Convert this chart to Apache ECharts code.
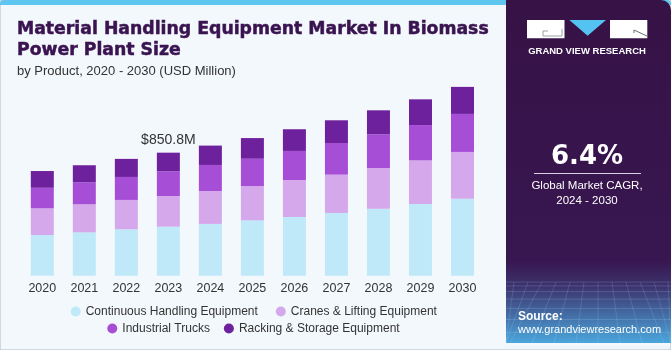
<!DOCTYPE html>
<html>
<head>
<meta charset="utf-8">
<script src="https://cdn.jsdelivr.net/npm/echarts@6/dist/echarts.min.js"></script>
<style>
html,body{margin:0;padding:0;background:#f3f8fc;}
#chart{width:671px;height:350px;}
</style>
</head>
<body>
<div id="chart"></div>
<script>
const years = ['2020','2021','2022','2023','2024','2025','2026','2027','2028','2029','2030'];
const continuous = [281, 300, 321, 339, 358, 383, 406, 434, 463, 496, 533];
const cranes     = [185, 194, 203, 212, 228, 237, 256, 265, 282, 302, 323];
const trucks     = [142, 152, 159, 171, 180, 189, 201, 219, 233, 244, 263];
const racking    = [116, 118, 125, 129, 134, 143, 150, 157, 166, 178, 187];
const seriesNames = ['Continuous Handling Equipment','Cranes & Lifting Equipment','Industrial Trucks','Racking & Storage Equipment'];
const seriesColors = ['#bfe9f9','#d5a8ec','#a64fd6','#6e219d'];
const highlightLabel = '$850.8M';
const highlightIndex = 3;

const chart = echarts.init(document.getElementById('chart'), null, {renderer:'canvas'});
const datasets = [continuous, cranes, trucks, racking];
const series = datasets.map((d, i) => ({
  name: seriesNames[i],
  type: 'bar',
  stack: 'total',
  barWidth: 23,
  data: d.map((v, j) => {
    if (i === 3 && j === highlightIndex) {
      return {value: v, label: {show: true, position: 'top', formatter: highlightLabel, color: '#333', fontSize: 14, fontFamily: 'Liberation Sans', distance: 6}};
    }
    return v;
  }),
  itemStyle: {color: seriesColors[i]},
  emphasis: {disabled: true},
  silent: true
}));

const panelX = 506;
const gridLines = [];
// faint texture lines in the lower panel
for (let k = 0; k < 9; k++) {
  const yy = 282 + k * k * 0.9 + k * 3;
  gridLines.push({type: 'line', shape: {x1: panelX, y1: yy, x2: 671, y2: yy}, style: {stroke: 'rgba(190,220,255,0.18)', lineWidth: 1}, z: 3, silent: true});
}
for (let k = 0; k < 12; k++) {
  const xt = panelX + 8 + k * 14;
  const xb = panelX - 40 + k * 22;
  gridLines.push({type: 'line', shape: {x1: xt, y1: 282, x2: Math.max(panelX, Math.min(671, xb)), y2: 343}, style: {stroke: 'rgba(190,220,255,0.16)', lineWidth: 1}, z: 3, silent: true});
}

chart.setOption({
  backgroundColor: '#f3f8fc',
  animation: false,
  grid: {left: 21.3, right: 187.5, top: 73.3, bottom: 74.3},
  xAxis: {
    type: 'category', data: years,
    axisLine: {show: false}, axisTick: {show: false},
    axisLabel: {color: '#333', fontSize: 12.5, fontFamily: 'Liberation Sans', margin: 6}
  },
  yAxis: {type: 'value', min: 0, max: 1400, show: false, splitLine: {show: false}},
  legend: [
    {data: [seriesNames[0], seriesNames[1]], left: 70.7, top: 305.5, padding: 0, itemGap: 18, itemWidth: 10, itemHeight: 10, icon: 'circle', textStyle: {color: '#333', fontSize: 12, fontFamily: 'Liberation Sans'}, selectedMode: false},
    {data: [seriesNames[2], seriesNames[3]], left: 107.3, top: 322.5, padding: 0, itemGap: 14, itemWidth: 10, itemHeight: 10, icon: 'circle', textStyle: {color: '#333', fontSize: 12, fontFamily: 'Liberation Sans'}, selectedMode: false}
  ],
  graphic: [
    {type: 'rect', shape: {x: 0, y: 0, width: 671, height: 350}, style: {fill: 'none', stroke: '#c9cdd1', lineWidth: 1.5}, z: -1, silent: true},
    {type: 'rect', shape: {x: 0, y: 0, width: 671, height: 5, r: [4,4,0,0]}, style: {fill: '#5ec6ef'}, z: 1, silent: true},
    {type: 'rect', shape: {x: panelX, y: 0, width: 671 - panelX, height: 343, r: [0,10,0,0]},
      style: {fill: new echarts.graphic.LinearGradient(0, 0, 0, 1, [
        {offset: 0, color: '#361246'}, {offset: 0.76, color: '#381650'}, {offset: 0.84, color: '#3d3670'},
        {offset: 1, color: '#4aa6dc'}])}, z: 2, silent: true},
    ...gridLines,
    // logo
    {type: 'rect', shape: {x: 527, y: 20, width: 37.5, height: 18.3}, style: {fill: '#ffffff'}, z: 3},
    {type: 'polyline', shape: {points: [[548,31],[543,31],[543,36],[562,36],[562,29]]}, style: {stroke: '#9aa0a8', lineWidth: 1, fill: 'none'}, z: 4},
    {type: 'polygon', shape: {points: [[569.3,20],[606,20],[587.6,35.7]]}, style: {fill: '#54c3f1'}, z: 3},
    {type: 'rect', shape: {x: 610, y: 20, width: 37.3, height: 18.3}, style: {fill: '#ffffff'}, z: 3},
    {type: 'line', shape: {x1: 634, y1: 30, x2: 647, y2: 36}, style: {stroke: '#6a6f78', lineWidth: 1}, z: 4},
    {type: 'line', shape: {x1: 634, y1: 30, x2: 634, y2: 33}, style: {stroke: '#6a6f78', lineWidth: 1}, z: 4},
    {type: 'text', x: 587, y: 51, style: {text: 'GRAND VIEW RESEARCH', fill: '#ffffff', font: 'bold 9.5px "Liberation Sans"', align: 'center', verticalAlign: 'middle'}, z: 4},
    // CAGR
    {type: 'text', x: 587, y: 157, style: {text: '6.4%', fill: '#ffffff', font: 'bold 26px "DejaVu Sans"', align: 'center', verticalAlign: 'middle'}, z: 4},
    {type: 'line', shape: {x1: 534, y1: 173.5, x2: 641, y2: 173.5}, style: {stroke: '#d8d0e0', lineWidth: 1}, z: 4},
    {type: 'text', x: 587, y: 185.5, style: {text: 'Global Market CAGR,', fill: '#ffffff', font: '11.5px "Liberation Sans"', align: 'center', verticalAlign: 'middle'}, z: 4},
    {type: 'text', x: 587, y: 201, style: {text: '2024 - 2030', fill: '#ffffff', font: '11.5px "Liberation Sans"', align: 'center', verticalAlign: 'middle'}, z: 4},
    // Source
    {type: 'text', x: 518, y: 316.5, style: {text: 'Source:', fill: '#ffffff', font: 'bold 12px "Liberation Sans"', verticalAlign: 'middle'}, z: 4},
    {type: 'text', x: 518, y: 330, style: {text: 'www.grandviewresearch.com', fill: '#ffffff', font: '11px "Liberation Sans"', verticalAlign: 'middle'}, z: 4},
    // titles
    {type: 'text', x: 17, y: 29.5, style: {text: 'Material Handling Equipment Market In Biomass', fill: '#3a1450', font: 'bold 17.3px "DejaVu Sans"', verticalAlign: 'middle', stroke: '#3a1450', lineWidth: 0.5}, z: 4},
    {type: 'text', x: 17, y: 50.5, style: {text: 'Power Plant Size', fill: '#3a1450', font: 'bold 17.3px "DejaVu Sans"', verticalAlign: 'middle', stroke: '#3a1450', lineWidth: 0.5}, z: 4},
    {type: 'text', x: 17, y: 71, style: {text: 'by Product, 2020 - 2030 (USD Million)', fill: '#333333', font: '13px "Liberation Sans"', verticalAlign: 'middle'}, z: 4}
  ],
  series: series
});
</script>
</body>
</html>
